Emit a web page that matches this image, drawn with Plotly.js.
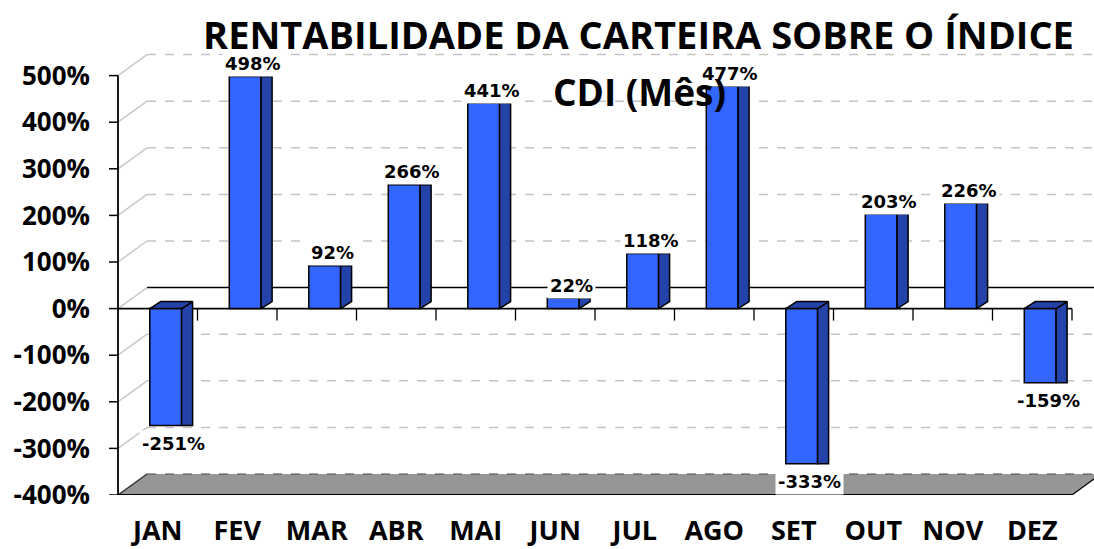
<!DOCTYPE html>
<html><head><meta charset="utf-8">
<script src="https://cdn.plot.ly/plotly-3.0.1.min.js"></script>
<style>html,body{margin:0;padding:0;background:#fff;} #chart{width:1094px;height:549px;}</style>
</head><body><div id="chart"></div>
<script>
// ---- data ----
const months = ['JAN','FEV','MAR','ABR','MAI','JUN','JUL','AGO','SET','OUT','NOV','DEZ'];
const values = [-251, 498, 92, 266, 441, 22, 118, 477, -333, 203, 226, -159];
const valueLabels = ['-251%','498%','92%','266%','441%','22%','118%','477%','-333%','203%','226%','-159%'];
const yTicks = [-400, -300, -200, -100, 0, 100, 200, 300, 400, 500];
const yTickText = ['-400%','-300%','-200%','-100%','0%','100%','200%','300%','400%','500%'];
const titleLine1 = 'RENTABILIDADE DA CARTEIRA SOBRE O ÍNDICE';
const titleLine2 = 'CDI (Mês)';

// ---- geometry / style ----
const W = 1094, H = 549;
const mL = 107, mR = 0, mT = 20, mB = 54;
const pxCat = 79.5;      // pixels per category
const pxUnit = 0.466;    // pixels per 1 %
const axisPx = 118;      // pixel x of the front value axis
const xmin = -0.5 - (axisPx - mL) / pxCat;
const xmax = -0.5 + (W - mR - axisPx) / pxCat;
const yLo = yTicks[0], yHi = yTicks[yTicks.length - 1];
const ymaxV = yLo + (H - mT - mB) / pxUnit;
const DX = 29 / pxCat, DY = 21 / pxUnit;         // depth offset of back wall
const FRONT_OFF = -0.1, FRONT_W = 0.4;
const SIDE_W = 11 / pxCat, SIDE_DY = 7 / pxUnit;
const LABEL_DX = 0.2;
const firstX = -0.5, lastX = months.length - 0.5;
const idx = months.map((m, i) => i);

const FRONT_BLUE = '#3366FF', DARK_BLUE = '#2343A8';
const shapes = [];
// floor
shapes.push({type:'path', xref:'x', yref:'y', layer:'below',
  path:`M${firstX},${yLo} L${lastX},${yLo} L${lastX+DX},${yLo+DY} L${firstX+DX},${yLo+DY} Z`,
  fillcolor:'#969696', line:{width:0}});
// back gridlines and diagonals
yTicks.forEach(v => {
  let col = '#C4C4C4', dash = 'dash', w = 1.5;
  if (v === 0) { col = '#000000'; dash = 'solid'; w = 1.5; }
  if (v === yLo) { col = '#4A4A4A'; dash = 'dash'; w = 1.2; }
  shapes.push({type:'line', xref:'x', yref:'y', layer:'below',
    x0:firstX+DX, x1:xmax, y0:v+DY, y1:v+DY, line:{color:col, width:w, dash:dash}});
  shapes.push({type:'line', xref:'x', yref:'y', layer:'below',
    x0:firstX, x1:firstX+DX, y0:v, y1:v+DY,
    line:{color: v === yLo ? '#333333' : '#C8C8C8', width:1.5}});
  // y tick marks
  shapes.push({type:'line', xref:'x', yref:'y', layer:'below',
    x0:firstX - 9/pxCat, x1:firstX, y0:v, y1:v, line:{color:'#000', width:1.5}});
});
// front value axis
shapes.push({type:'line', xref:'x', yref:'y', layer:'below',
  x0:firstX, x1:firstX, y0:yLo, y1:yHi, line:{color:'#000', width:1.8}});
// floor front edge and right slant
shapes.push({type:'line', xref:'x', yref:'y', layer:'below',
  x0:firstX, x1:lastX, y0:yLo, y1:yLo, line:{color:'#000', width:1.8}});
shapes.push({type:'line', xref:'x', yref:'y', layer:'below',
  x0:lastX, x1:lastX+DX, y0:yLo, y1:yLo+DY, line:{color:'#000', width:1.2}});
// front zero line and category ticks
shapes.push({type:'line', xref:'x', yref:'y', layer:'below',
  x0:firstX, x1:lastX, y0:0, y1:0, line:{color:'#000', width:1.8}});
idx.forEach(i => {
  shapes.push({type:'line', xref:'x', yref:'y', layer:'below',
    x0:i+0.5, x1:i+0.5, y0:0, y1:-12/pxUnit, line:{color:'#000', width:1.3}});
});

// side faces and top faces (computed from data)
const sideX = [], sideY = [], topX = [], topY = [];
idx.forEach(i => {
  const v = values[i];
  const a = i + FRONT_OFF + FRONT_W, b = a + SIDE_W;
  sideX.push(a, b, b, a, a, null);
  sideY.push(0, SIDE_DY, v, v, 0, null);
  if (v < 0) {
    const l = i + FRONT_OFF;
    topX.push(l, a, b, l + SIDE_W, l, null);
    topY.push(0, 0, SIDE_DY, SIDE_DY, 0, null);
  }
});

const traces = [
  {type:'bar', x:idx, y:values, width:FRONT_W, offset:FRONT_OFF,
   marker:{color:FRONT_BLUE, line:{color:'#000', width:1.5}}, hoverinfo:'skip'},
  {type:'scatter', mode:'lines', x:sideX, y:sideY, fill:'toself', fillcolor:DARK_BLUE,
   line:{color:'#000', width:1.5}, hoverinfo:'skip'},
  {type:'scatter', mode:'lines', x:topX, y:topY, fill:'toself', fillcolor:DARK_BLUE,
   line:{color:'#000', width:1.5}, hoverinfo:'skip'}
];

const annotations = idx.map(i => ({
  x: i + LABEL_DX, y: values[i], xref:'x', yref:'y',
  yshift: values[i] >= 0 ? 13 : -18, yanchor:'middle', xanchor:'center',
  text: valueLabels[i], showarrow:false, bgcolor:'#FFFFFF', borderpad:2,
  font:{family:'DejaVu Sans, sans-serif', size:18, color:'#000', weight:700}
}));
annotations.push({
  x:(639 - mL) / (W - mL - mR), y:(H - mB - 91) / (H - mT - mB), xref:'paper', yref:'paper',
  xanchor:'center', yanchor:'middle', text:titleLine2, showarrow:false,
  font:{family:'Open Sans, sans-serif', size:37, color:'#000', weight:700}
});

const layout = {
  width:W, height:H, paper_bgcolor:'#FFFFFF', plot_bgcolor:'#FFFFFF',
  margin:{l:mL, r:mR, t:mT, b:mB, pad:0},
  showlegend:false,
  title:{text:titleLine1, xref:'container', yref:'container', x:638.5/W, y:1 - 36/H,
    xanchor:'center', yanchor:'middle',
    font:{family:'Open Sans, sans-serif', size:38, color:'#000', weight:700}},
  xaxis:{range:[xmin, xmax], tickmode:'array', tickvals:idx, ticktext:months,
    showgrid:false, zeroline:false, showline:false, ticks:'', ticklabelstandoff:17,
    tickfont:{family:'Open Sans, sans-serif', size:27, color:'#000', weight:700}, fixedrange:true},
  yaxis:{range:[yLo, ymaxV], tickmode:'array', tickvals:yTicks, ticktext:yTickText,
    showgrid:false, zeroline:false, showline:false, ticks:'', ticklabelstandoff:16,
    tickfont:{family:'Open Sans, sans-serif', size:26, color:'#000', weight:700}, fixedrange:true},
  shapes:shapes, annotations:annotations, bargap:0
};
Plotly.newPlot('chart', traces, layout, {displayModeBar:false, staticPlot:true});
</script></body></html>
